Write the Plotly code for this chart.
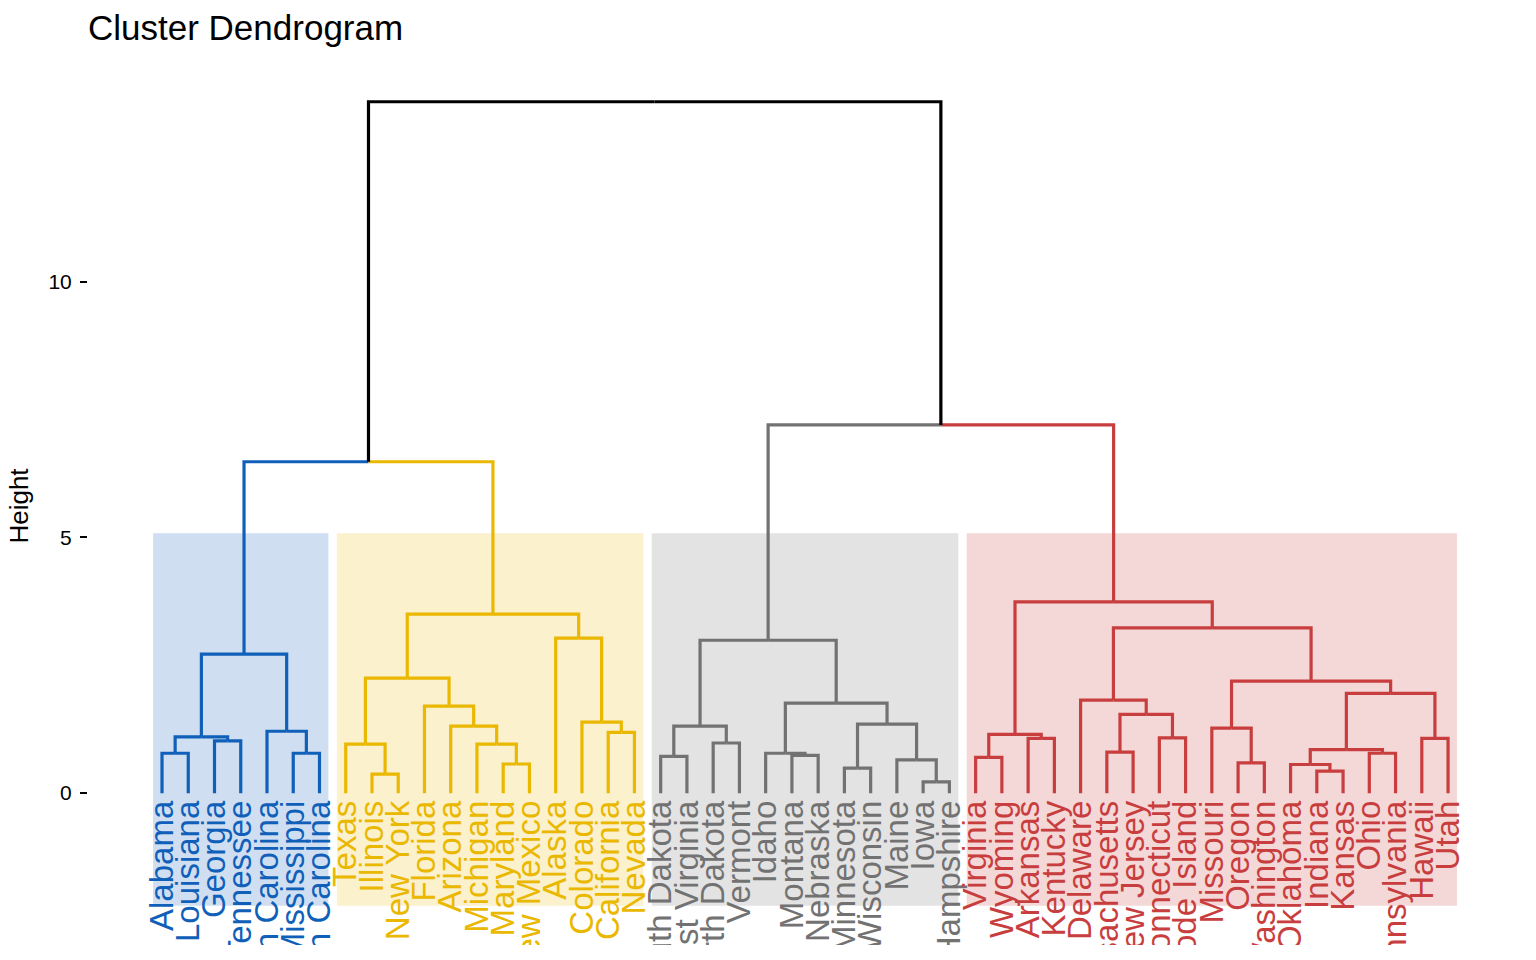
import plotly.graph_objects as go

# ---------------- data ----------------
leaves = ["Alabama", "Louisiana", "Georgia", "Tennessee", "North Carolina", "Mississippi", "South Carolina",
          "Texas", "Illinois", "New York", "Florida", "Arizona", "Michigan", "Maryland", "New Mexico",
          "Alaska", "Colorado", "California", "Nevada",
          "South Dakota", "West Virginia", "North Dakota", "Vermont", "Idaho", "Montana", "Nebraska",
          "Minnesota", "Wisconsin", "Maine", "Iowa", "New Hampshire",
          "Virginia", "Wyoming", "Arkansas", "Kentucky", "Delaware", "Massachusetts", "New Jersey",
          "Connecticut", "Rhode Island", "Missouri", "Oregon", "Washington", "Oklahoma", "Indiana",
          "Kansas", "Ohio", "Pennsylvania", "Hawaii", "Utah"]

# merge k (m1, m2, ...) joins merge_left[k-1] and merge_right[k-1] at merge_height[k-1]
merge_left = ["Alabama", "Georgia", "m1", "Mississippi", "North Carolina", "m3",
              "Illinois", "Texas", "Maryland", "Michigan", "Arizona", "Florida", "m8",
              "California", "Colorado", "Alaska", "m13", "m6",
              "South Dakota", "North Dakota", "m19", "Montana", "Idaho", "Minnesota", "Iowa",
              "Maine", "m24", "m23", "m21",
              "Virginia", "Arkansas", "m30", "Massachusetts", "Connecticut", "m33", "Delaware",
              "Oregon", "Missouri", "Indiana", "Oklahoma", "Ohio", "m40", "Hawaii", "m42",
              "m38", "m36", "m32", "m29", "m18"]
merge_right = ["Louisiana", "Tennessee", "m2", "South Carolina", "m4", "m5",
               "New York", "m7", "New Mexico", "m9", "m10", "m11", "m12",
               "Nevada", "m14", "m15", "m16", "m17",
               "West Virginia", "Vermont", "m20", "Nebraska", "m22", "Wisconsin", "New Hampshire",
               "m25", "m26", "m27", "m28",
               "Wyoming", "Kentucky", "m31", "New Jersey", "Rhode Island", "m34", "m35",
               "Washington", "m37", "Kansas", "m39", "Pennsylvania", "m41", "Utah", "m43",
               "m44", "m45", "m46", "m47", "m48"]
merge_height = [0.78, 1.02, 1.10, 0.78, 1.21, 2.72,
                0.37, 0.96, 0.57, 0.96, 1.31, 1.70, 2.25,
                1.19, 1.39, 3.03, 3.50, 6.48,
                0.72, 0.98, 1.31, 0.74, 0.78, 0.49, 0.22,
                0.65, 1.35, 1.76, 2.99,
                0.70, 1.07, 1.15, 0.80, 1.08, 1.54, 1.82,
                0.59, 1.27, 0.43, 0.56, 0.78, 0.85, 1.07, 1.95,
                2.19, 3.23, 3.74, 7.20, 13.52]

cluster_roots = ["m6", "m17", "m29", "m47"]
cluster_colors = ["#1060BA", "#EAB800", "#727272", "#C83E3E"]
rect_top = 5.08
rect_bottom = -2.2

# ---------------- geometry from the tree ----------------
node_x, node_h, children = {}, {}, {}
for i, name in enumerate(leaves):
    node_x[name] = i + 1
    node_h[name] = 0.0
for k, (a, b, h) in enumerate(zip(merge_left, merge_right, merge_height)):
    nid = f"m{k + 1}"
    node_x[nid] = (node_x[a] + node_x[b]) / 2
    node_h[nid] = h
    children[nid] = [a, b]

node_cluster = {}
def assign(n, c):
    node_cluster[n] = c
    for ch in children.get(n, []):
        assign(ch, c)
for ci, r in enumerate(cluster_roots):
    assign(r, ci)

def leaf_members(n):
    if n not in children:
        return [n]
    return leaf_members(children[n][0]) + leaf_members(children[n][1])

paths = {c: ([], []) for c in list(range(len(cluster_roots))) + ["root"]}
for nid, chs in children.items():
    for ch in chs:
        key = node_cluster.get(ch, "root")
        xs, ys = paths[key]
        xs += [node_x[nid], node_x[ch], node_x[ch], None]
        ys += [node_h[nid], node_h[nid], node_h[ch], None]

fig = go.Figure()
for key, (xs, ys) in paths.items():
    color = "black" if key == "root" else cluster_colors[key]
    fig.add_trace(go.Scatter(x=xs, y=ys, mode="lines", line=dict(color=color, width=3.2),
                             hoverinfo="skip", showlegend=False))

# cluster rectangles
for ci, r in enumerate(cluster_roots):
    xs = [node_x[l] for l in leaf_members(r)]
    fig.add_shape(type="rect", xref="x", yref="y", x0=min(xs) - 0.34, x1=max(xs) + 0.34,
                  y0=rect_bottom, y1=rect_top, fillcolor=cluster_colors[ci], opacity=0.2,
                  line=dict(width=0), layer="below")

# leaf labels as coloured tick labels
leaf_color = {}
for ci, r in enumerate(cluster_roots):
    for l in leaf_members(r):
        leaf_color[l] = cluster_colors[ci]
ticktext = [f'<span style="color:{leaf_color[l]}">{l}</span>' for l in leaves]

y_range = [-2.97, 14.2]
x_range = [-1.82, 52.97]
axis_pos = (0 - y_range[0]) / (y_range[1] - y_range[0])

fig.update_layout(
    width=1536, height=960,
    margin=dict(l=88, r=10, t=67, b=15),
    paper_bgcolor="white", plot_bgcolor="white",
    font=dict(family="Liberation Sans, Arial, sans-serif", color="black"),
    title=dict(text="Cluster Dendrogram", font=dict(size=35, color="black"),
               x=88 / 1536, xanchor="left", xref="container",
               y=1 - 28 / 960, yanchor="middle", yref="container"),
    xaxis=dict(range=x_range, showgrid=False, zeroline=False, showline=False,
               tickmode="array", tickvals=list(range(1, len(leaves) + 1)), ticktext=ticktext,
               tickangle=-90, ticks="", tickfont=dict(size=33),
               anchor="free", position=axis_pos, ticklabelstandoff=0,
               ticklabeloverflow="allow", automargin=False, fixedrange=True),
    yaxis=dict(range=y_range, showgrid=False, zeroline=False, showline=False,
               tickmode="array", tickvals=[0, 5, 10], ticktext=["0", "5", "10"],
               ticks="outside", ticklen=7, tickwidth=2, tickcolor="black",
               tickfont=dict(size=21, color="black"), ticklabelstandoff=4,
               title=dict(text="Height", font=dict(size=26, color="black"), standoff=12),
               automargin=False, fixedrange=True),
)

# white band that clips the leaf labels at the panel bottom
fig.add_shape(type="rect", xref="paper", yref="paper", x0=-0.2, x1=1.2, y0=-0.2, y1=0,
              fillcolor="white", line=dict(width=0), layer="above")

fig.write_html("out.html")
